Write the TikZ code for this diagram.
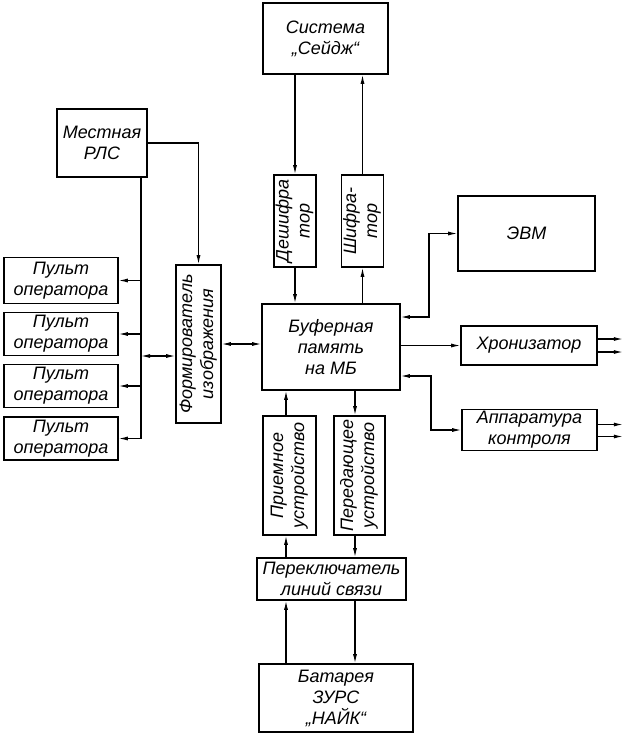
\documentclass[tikz,border=0pt]{standalone}
\usepackage{fontspec}
\setmainfont{Liberation Sans}
\usetikzlibrary{arrows.meta,calc}
\newcommand\fs{\fontsize{18}{21}\selectfont\itshape}
\newcommand\vtxt[1]{\rotatebox{90}{\begin{tabular}{@{}c@{}}#1\end{tabular}}}
\begin{document}
\begin{tikzpicture}[x=1pt,y=-1pt,
  box/.style={draw, line width=1.6pt, inner sep=0pt, align=center, font=\fs},
  ln/.style={line width=1.1pt},
  con/.style={line width=1.1pt, -{Latex[length=9pt,width=4pt]}},
  dcon/.style={line width=1.1pt, {Latex[length=9pt,width=4pt]}-{Latex[length=9pt,width=4pt]}}]
\useasboundingbox (0,0) rectangle (637,739);
% nodes
\node[box, minimum width=125, minimum height=71] (sage) at (325.5,38.5) {Система\\„Сейдж“};
\node[box, minimum width=90, minimum height=68] (rls) at (102,143) {Местная\\РЛС};
\node[box, minimum width=114, minimum height=46] (p1) at (61,280.5) {Пульт\\оператора};
\node[box, minimum width=114, minimum height=43] (p2) at (61,334) {Пульт\\оператора};
\node[box, minimum width=114, minimum height=43] (p3) at (61,386) {Пульт\\оператора};
\node[box, minimum width=114, minimum height=43] (p4) at (61,438.5) {Пульт\\оператора};
\node[box, minimum width=45, minimum height=158] (form) at (198.5,344) {\vtxt{Формирователь\\изображения}};
\node[box, minimum width=42, minimum height=92] (desh) at (295,221) {\vtxt{Дешифра\\тор}};
\node[box, minimum width=41, minimum height=92] (shif) at (362.5,221) {\vtxt{Шифра-\\тор}};
\node[box, minimum width=138, minimum height=86] (buf) at (331,347) {Буферная\\память\\на МБ};
\node[box, minimum width=137, minimum height=75] (evm) at (526.5,233.5) {ЭВМ};
\node[box, minimum width=136, minimum height=39] (hron) at (529,345.5) {Хронизатор};
\node[box, minimum width=135, minimum height=41] (app) at (529.5,430) {Аппаратура\\контроля};
\node[box, minimum width=53, minimum height=119] (pri) at (289.5,475.5) {\vtxt{Приемное\\устройство}};
\node[box, minimum width=51, minimum height=119] (per) at (359.5,475.5) {\vtxt{Передающее\\устройство}};
\node[box, minimum width=149, minimum height=42] (sw) at (331.5,579) {Переключатель\\линий связи};
\node[box, minimum width=154, minimum height=68] (bat) at (336,698) {Батарея\\ЗУРС\\„НАЙК“};
% helper coordinates
\coordinate (busx) at (141,0);
\coordinate (cx) at (429,0);
\coordinate (cx2) at (431,0);
\coordinate (fl) at ([yshift=-12pt]form.west);
\coordinate (b1) at ([yshift=30pt]buf.east);
\coordinate (b2) at ([yshift=-29pt]buf.east);
\coordinate (prx) at ([xshift=-3.5pt]pri.north);
\coordinate (pex) at ([xshift=-4.5pt]per.north);
% connectors
\draw[con] (desh.north |- sage.south) -- (desh.north);
\draw[con] (shif.north) -- (shif.north |- sage.south);
\draw[con] (desh.south) -- (desh.south |- buf.north);
\draw[con] (shif.south |- buf.north) -- (shif.south);
\draw[con] (rls.east) -| (form.north);
\draw[ln] (rls.south -| busx) -- (busx |- p4.east);
\foreach \p in {p1,p2,p3,p4} \draw[con] (busx |- \p.east) -- (\p.east);
\draw[dcon] (fl -| busx) -- (fl);
\draw[dcon] (form.east) -- (form.east -| buf.west);
\draw[dcon] (b1) -- (b1 -| cx) |- (evm.west);
\draw[con] (hron.west -| buf.east) -- (hron.west);
\draw[dcon] (b2) -- (b2 -| cx2) |- (app.west);
\draw[con] ([yshift=6.5pt]hron.east) -- ++(25,0);
\draw[con] ([yshift=-6.5pt]hron.east) -- ++(25,0);
\draw[con] ([yshift=5.5pt]app.east) -- ++(25,0);
\draw[con] ([yshift=-6.5pt]app.east) -- ++(25,0);
\draw[con] (prx) -- (prx |- buf.south);
\draw[con] (pex |- buf.south) -- (pex);
\draw[con] (prx |- sw.north) -- (prx |- pri.south);
\draw[con] (pex |- per.south) -- (pex |- sw.north);
\draw[con] (prx |- bat.north) -- (prx |- sw.south);
\draw[con] (pex |- sw.south) -- (pex |- bat.north);
\end{tikzpicture}
\end{document}
